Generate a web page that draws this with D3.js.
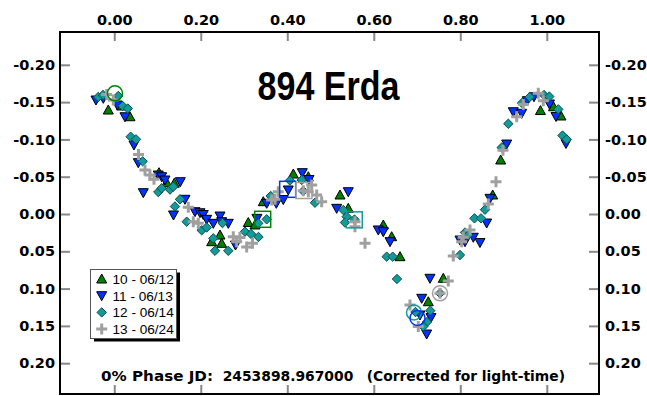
<!DOCTYPE html>
<html><head><meta charset="utf-8">
<script src="https://cdn.jsdelivr.net/npm/d3@7"></script>
<style>
html,body{margin:0;padding:0;background:#fff;}
svg{display:block;}
</style></head>
<body>
<svg id="chart" width="647" height="396"></svg>
<script>
// ---- data ----
const xTicks = [0.00, 0.20, 0.40, 0.60, 0.80, 1.00];
const yTicks = [-0.20, -0.15, -0.10, -0.05, 0.00, 0.05, 0.10, 0.15, 0.20];
const seriesNames = ["10 - 06/12", "11 - 06/13", "12 - 06/14", "13 - 06/24"];

const s10 = [[-0.0139,-0.1394],[0.0171,-0.1448],[0.0363,-0.1304],[0.1034,-0.0554],[0.1212,-0.0420],[0.1387,-0.0412],
[0.2252,0.0371],[0.2444,0.0282],[0.2483,0.0393],[0.3098,0.0114],[0.3253,0.0147],[0.3445,-0.0165],[0.4139,-0.0536],
[0.4486,-0.0500],[0.5219,-0.0255],[0.5410,-0.0076],[0.6220,0.0147],[0.6414,0.0304],[0.6606,0.0572],[0.7260,0.1176],
[0.7607,0.0862],[0.8749,-0.0255],[0.8934,-0.0724],[0.9854,-0.1387],[1.0155,-0.1438],[1.0328,-0.1314]];

const s11 = [[-0.0423,-0.1528],[-0.0254,-0.1551],[0.0069,-0.1461],[0.0247,-0.1304],[0.0455,-0.0925],[0.0555,-0.0688],
[0.0671,-0.0286],[0.1017,-0.0523],[0.1096,-0.0500],[0.1172,-0.0456],[0.1526,-0.0433],[0.1369,0.0013],[0.1635,-0.0197],
[0.1866,-0.0031],[0.1982,-0.0017],[0.2058,0.0007],[0.2136,0.0071],[0.2289,0.0125],[0.2444,0.0027],[0.2483,0.0103],
[0.2636,0.0125],[0.2802,0.0416],[0.3299,0.0058],[0.3524,-0.0143],[0.3746,-0.0143],[0.3908,-0.0194],[0.4023,-0.0322],
[0.4347,-0.0554],[0.4502,-0.0462],[0.5142,-0.0076],[0.5410,-0.0299],[0.6104,0.0214],[0.6220,0.0237],[0.6375,0.0371],
[0.7299,0.0862],[0.7108,0.1130],[0.7068,0.1354],[0.7323,0.1387],[0.7223,0.1609],[0.7993,0.0349],[0.8109,0.0371],
[0.8301,0.0312],[0.8455,0.0382],[0.8610,0.0121],[0.8687,-0.0210],[0.9073,-0.0938],[0.9225,-0.1371],[0.9420,-0.1350],
[0.9549,-0.1519],[0.9704,-0.1572],[1.0062,-0.1475],[1.0213,-0.1307],[1.0444,-0.0945]];

const s12 = [[-0.0370,-0.1568],[-0.0261,-0.1595],[0.0092,-0.1582],[0.0194,-0.1448],[0.0312,-0.1414],[0.0379,-0.1036],
[0.0502,-0.1001],[0.0657,-0.0706],[0.1017,-0.0295],[0.1096,-0.0345],[0.1288,-0.0328],[0.1364,-0.0366],[0.1519,-0.0197],
[0.1403,-0.0101],[0.1674,0.0103],[0.2021,0.0218],[0.2136,0.0181],[0.2502,0.0121],[0.2289,0.0326],[0.2328,0.0493],
[0.2636,0.0493],[0.3022,0.0237],[0.3161,0.0268],[0.3334,0.0308],[0.3329,0.0125],[0.3524,0.0071],[0.3616,-0.0241],
[0.4062,-0.0449],[0.4333,-0.0456],[0.4370,-0.0308],[0.4640,-0.0151],[0.5295,-0.0054],[0.5373,0.0036],[0.5334,0.0114],
[0.5554,0.0074],[0.6298,0.0572],[0.6437,0.0572],[0.6536,0.0871],[0.7531,0.1063],[0.6964,0.1314],[0.7306,0.1296],
[0.7230,0.1448],[0.7145,0.1508],[0.7993,0.0550],[0.8109,0.0248],[0.8185,0.0282],[0.8328,0.0058],[0.8479,0.0058],
[0.8571,-0.0058],[0.8957,-0.0891],[0.9110,-0.1210],[0.9427,-0.1488],[0.9605,-0.1568],[0.9935,-0.1595],[1.0058,-0.1575],
[1.0266,-0.1403],[1.0363,-0.1052],[1.0460,-0.1001]];

const s13 = [[-0.0176,-0.1602],[-0.0023,-0.1528],[0.0560,-0.0798],[0.0710,-0.0590],[0.0825,-0.0523],[0.0918,-0.0465],
[0.1711,-0.0090],[0.1827,0.0103],[0.1942,0.0125],[0.2751,0.0304],[0.2906,0.0315],[0.2830,0.0371],[0.3061,0.0442],
[0.3195,0.0393],[0.3639,-0.0188],[0.3792,-0.0299],[0.3716,-0.0197],[0.4370,-0.0312],[0.4486,-0.0299],[0.4564,-0.0389],
[0.4680,-0.0255],[0.4795,-0.0165],[0.5565,0.0103],[0.5565,0.0170],[0.5797,0.0393],[0.6837,0.1220],[0.7029,0.1508],
[0.7531,0.1063],[0.7723,0.0898],[0.7838,0.0563],[0.8032,0.0371],[0.8069,0.0312],[0.8224,0.0214],[0.8647,-0.0134],
[0.8825,-0.0433],[0.8987,-0.0854],[0.9304,-0.1304],[0.9457,-0.1468],[0.9803,-0.1618],[0.9919,-0.1519]];

// session markers (series index, shape, phase, mag)
const marks = [[0,"circle",0.0016,-0.1618],[1,"square",0.4009,-0.0331],[3,"square",0.4386,-0.0315],
[0,"square",0.3431,0.0071],[2,"square",0.5549,0.0078],[2,"circle",0.6930,0.1320],[1,"circle",0.7010,0.1394],
[3,"circle",0.7531,0.1063]];

// ---- styles ----
const colors = ["#008000", "#0033ff", "#139a9a", "#a0a0a0"];
const shapes = ["up", "down", "diamond", "plus"];
const allSeries = [s10, s11, s12, s13];

const svg = d3.select("#chart");
const L = 60, R = 599, T = 32, B = 394;
const x = d3.scaleLinear().domain([-0.1255, 1.1207]).range([L, R]);
const y = d3.scaleLinear().domain([-0.244, 0.2413]).range([T, B]);

const tickFont = "'DejaVu Sans', Verdana, sans-serif";

function styleAxis(g) {
  g.select(".domain").remove();
  g.selectAll(".tick line").attr("stroke", "#888").attr("stroke-width", 2);
  g.selectAll(".tick text").attr("fill", "#000").attr("font-family", tickFont)
    .attr("font-weight", "bold").attr("font-size", "14.5px");
}
const fmt = d => d.toFixed(2);

svg.append("g").attr("transform", `translate(0,${T})`)
  .call(d3.axisTop(x).tickValues(xTicks).tickFormat(fmt).tickSize(-9).tickPadding(7)).call(styleAxis);
svg.append("g").attr("transform", `translate(0,${B})`)
  .call(d3.axisBottom(x).tickValues(xTicks).tickFormat("").tickSize(-9)).call(styleAxis);
svg.append("g").attr("transform", `translate(${L},0)`)
  .call(d3.axisLeft(y).tickValues(yTicks).tickFormat(fmt).tickSize(-10).tickPadding(5)).call(styleAxis);
svg.append("g").attr("transform", `translate(${R},0)`)
  .call(d3.axisRight(y).tickValues(yTicks).tickFormat(fmt).tickSize(-10).tickPadding(6)).call(styleAxis);

// frame
svg.append("rect").attr("x", L).attr("y", T).attr("width", R - L).attr("height", B - T)
  .attr("fill", "none").attr("stroke", "#000").attr("stroke-width", 2);

// title
svg.append("text").attr("x", 257.5).attr("y", 100).attr("textLength", 142).attr("lengthAdjust", "spacingAndGlyphs")
  .attr("font-family", "'Liberation Sans', Arial, sans-serif").attr("font-weight", "bold").attr("font-size", "40px")
  .text("894 Erda");

// bottom note
const noteParts = [["0% Phase JD:", 101, 112], ["2453898.967000", 222.7, 130.6], ["(Corrected for light-time)", 366.7, 198.3]];
noteParts.forEach(([t, x0, w]) => {
  svg.append("text").attr("x", x0).attr("y", 380.5).attr("textLength", w).attr("lengthAdjust", "spacingAndGlyphs")
    .attr("font-family", tickFont).attr("font-weight", "bold").attr("font-size", "14.5px").text(t);
});

// markers
function drawSymbol(g, shape, color) {
  if (shape === "up") g.append("path").attr("d", "M0,-5L5,4L-5,4Z").attr("fill", color).attr("stroke", "#000").attr("stroke-width", 1);
  else if (shape === "down") g.append("path").attr("d", "M0,5L5,-4L-5,-4Z").attr("fill", color).attr("stroke", "#000").attr("stroke-width", 1);
  else if (shape === "diamond") g.append("path").attr("d", "M0,-4.7L4.7,0L0,4.7L-4.7,0Z").attr("fill", color).attr("stroke", "#0b4d4d").attr("stroke-width", 1);
  else g.append("path").attr("d", "M-5.5,0H5.5M0,-5.5V5.5").attr("stroke", color).attr("stroke-width", 3).attr("fill", "none");
}

const plot = svg.append("g");
allSeries.forEach((data, i) => {
  plot.append("g").selectAll("g").data(data).join("g")
    .attr("transform", d => `translate(${x(d[0])},${y(d[1])})`)
    .each(function () { drawSymbol(d3.select(this), shapes[i], colors[i]); });
});

plot.append("g").selectAll("g").data(marks).join("g")
  .attr("transform", d => `translate(${x(d[2])},${y(d[3])})`)
  .each(function (d) {
    const g = d3.select(this);
    if (d[1] === "circle") g.append("circle").attr("r", 7.5).attr("fill", "none").attr("stroke", colors[d[0]]).attr("stroke-width", 1.5);
    else g.append("rect").attr("x", -8).attr("y", -8).attr("width", 16).attr("height", 16).attr("fill", "none").attr("stroke", colors[d[0]]).attr("stroke-width", 1.5);
  });

// legend
const lg = svg.append("g");
lg.append("rect").attr("x", 94).attr("y", 272.5).attr("width", 86).attr("height", 69).attr("fill", "#000");
lg.append("rect").attr("x", 90.5).attr("y", 269.5).attr("width", 86).attr("height", 69).attr("fill", "#fff")
  .attr("stroke", "#555").attr("stroke-width", 1);
seriesNames.forEach((n, i) => {
  const yy = 279 + i * 16.7;
  drawSymbol(lg.append("g").attr("transform", `translate(101.7,${yy})`), shapes[i], colors[i]);
  lg.append("text").attr("x", 112.5).attr("y", yy + 5).attr("font-family", "'Liberation Sans', Arial, sans-serif")
    .attr("font-size", "13.6px").attr("fill", "#000").text(n);
});
</script>
</body></html>
